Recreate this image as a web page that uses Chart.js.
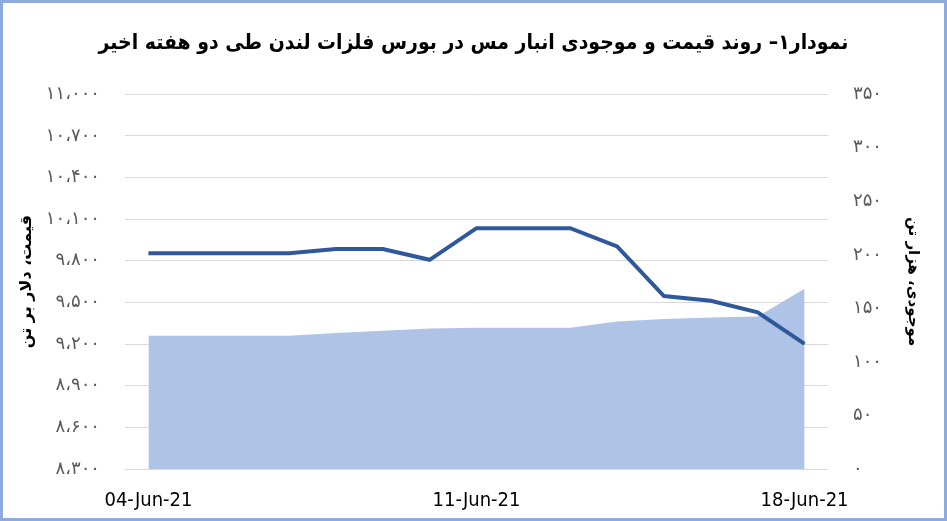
<!DOCTYPE html>
<html>
<head>
<meta charset="utf-8">
<script src="https://cdn.jsdelivr.net/npm/chart.js@4"></script>
<style>
    body { margin: 0; background: #fff; }
    #wrap { position: relative; width: 947px; height: 521px; }
    #frame {
        position: absolute; left: 0; top: 0; width: 947px; height: 521px;
        box-sizing: border-box; border: 3px solid #8FAADC; pointer-events: none;
    }
</style>
</head>
<body>
<div id="wrap">
    <canvas id="copper-chart" width="947" height="521"></canvas>
    <div id="frame"></div>
</div>
<script>
// Dates on the x axis (one per calendar day)
const dates = [
    '04-Jun-21', '05-Jun-21', '06-Jun-21', '07-Jun-21', '08-Jun-21',
    '09-Jun-21', '10-Jun-21', '11-Jun-21', '12-Jun-21', '13-Jun-21',
    '14-Jun-21', '15-Jun-21', '16-Jun-21', '17-Jun-21', '18-Jun-21'
];
// Only these dates get a label
const shownDates = ['04-Jun-21', '11-Jun-21', '18-Jun-21'];

// Copper price, dollars per tonne (left axis)
const priceValues = [9855, 9855, 9855, 9855, 9884, 9884, 9807, 10035, 10035, 10035, 9903, 9546, 9512, 9428, 9202];
// LME copper stocks, thousand tonnes (right axis)
const stockValues = [124.5, 124.5, 124.5, 124.5, 126.9, 129.1, 131.2, 132, 132, 132, 137.8, 140, 141.5, 142.5, 168.3];

// Tick values for both axes
const priceTicks = [8300, 8600, 8900, 9200, 9500, 9800, 10100, 10400, 10700, 11000];
const stockTicks = [0, 50, 100, 150, 200, 250, 300, 350];

const chartTitle = 'نمودار۱– روند قیمت و موجودی انبار مس در بورس فلزات لندن طی دو هفته اخیر';
const priceAxisTitle = 'قیمت، دلار بر تن';
const stockAxisTitle = 'موجودی، هزار تن';

const condensed = "'DejaVu Sans Condensed', 'DejaVu Sans', sans-serif";

// Western digits -> Persian digits, with Arabic comma as thousands separator
function toPersian(num) {
    const fa = '۰۱۲۳۴۵۶۷۸۹';
    const s = String(num).replace(/\B(?=(\d{3})+(?!\d))/g, '،');
    return s.replace(/\d/g, d => fa[d]);
}

const ctx = document.getElementById('copper-chart').getContext('2d');

new Chart(ctx, {
    type: 'line',
    data: {
        labels: dates,
        datasets: [
            {
                label: 'price',
                data: priceValues,
                yAxisID: 'yPrice',
                borderColor: '#2E5899',
                borderWidth: 4,
                pointRadius: 0,
                tension: 0,
                fill: false
            },
            {
                label: 'stocks',
                data: stockValues,
                yAxisID: 'yStock',
                borderWidth: 0,
                borderColor: 'rgba(0,0,0,0)',
                backgroundColor: '#AEC3E6',
                pointRadius: 0,
                tension: 0,
                fill: 'origin'
            }
        ]
    },
    options: {
        responsive: false,
        animation: false,
        layout: { padding: 0 },
        plugins: {
            legend: { display: false },
            tooltip: { enabled: false },
            title: {
                display: true,
                text: chartTitle,
                color: '#000',
                font: { family: condensed, size: 21, weight: 'bold' },
                padding: { top: 31, bottom: 38 }
            }
        },
        scales: {
            x: {
                offset: true,
                grid: { display: false },
                border: { display: false },
                ticks: {
                    autoSkip: false,
                    maxRotation: 0,
                    padding: 12,
                    color: '#000',
                    font: { family: condensed, size: 20 },
                    callback: function (value, index) {
                        const d = dates[index];
                        return shownDates.includes(d) ? d : '';
                    }
                },
                afterFit: s => { s.height = 52; }
            },
            yPrice: {
                position: 'left',
                min: priceTicks[0],
                max: priceTicks[priceTicks.length - 1],
                afterBuildTicks: s => { s.ticks = priceTicks.map(v => ({ value: v })); },
                grid: { color: '#D9D9D9', lineWidth: 1, drawTicks: false },
                border: { display: false },
                ticks: {
                    padding: 25,
                    color: '#595959',
                    font: { family: 'DejaVu Sans', size: 18 },
                    callback: v => toPersian(v)
                },
                title: {
                    display: true,
                    text: priceAxisTitle,
                    color: '#000',
                    font: { family: 'DejaVu Sans', size: 16, weight: 'bold' },
                    padding: { top: 17, bottom: 0 }
                },
                afterFit: s => { s.width = 125; }
            },
            yStock: {
                position: 'right',
                min: stockTicks[0],
                max: stockTicks[stockTicks.length - 1],
                afterBuildTicks: s => { s.ticks = stockTicks.map(v => ({ value: v })); },
                grid: { display: false },
                border: { display: false },
                ticks: {
                    padding: 17,
                    color: '#595959',
                    font: { family: 'DejaVu Sans', size: 18 },
                    callback: v => toPersian(v)
                },
                title: {
                    display: true,
                    text: stockAxisTitle,
                    color: '#000',
                    font: { family: 'DejaVu Sans', size: 15, weight: 'bold' },
                    padding: { top: 25, bottom: 0 }
                },
                afterFit: s => { s.width = 119; }
            }
        }
    }
});
</script>
</body>
</html>
